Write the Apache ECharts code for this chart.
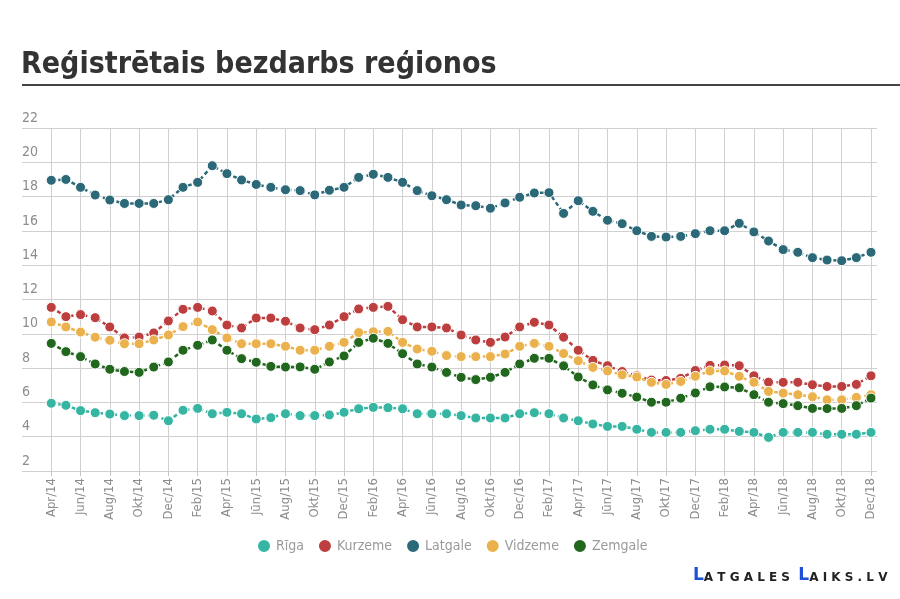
<!DOCTYPE html>
<html>
<head>
<meta charset="utf-8">
<title>Reģistrētais bezdarbs reģionos</title>
<script src="https://cdn.jsdelivr.net/npm/echarts@6/dist/echarts.min.js"></script>
<style>
  html, body { margin: 0; padding: 0; background: #fff; }
  #chart { width: 900px; height: 599px; }
</style>
</head>
<body>
<div id="chart"></div>
<script>
// ticks every second month, Apr/14 .. Dec/18
const tickLabels = [
  "Apr/14", "Jun/14", "Aug/14", "Okt/14", "Dec/14",
  "Feb/15", "Apr/15", "Jūn/15", "Aug/15", "Okt/15", "Dec/15",
  "Feb/16", "Apr/16", "Jūn/16", "Aug/16", "Okt/16", "Dec/16",
  "Feb/17", "Apr/17", "Jūn/17", "Aug/17", "Okt/17", "Dec/17",
  "Feb/18", "Apr/18", "Jūn/18", "Aug/18", "Okt/18", "Dec/18"
];

const seriesNames = ["Rīga", "Kurzeme", "Latgale", "Vidzeme", "Zemgale"];

// monthly values, Apr/14 .. Dec/18 (57 months)
const riga = [
  5.95, 5.83, 5.52, 5.4, 5.32, 5.23, 5.23, 5.25, 4.93, 5.54,
  5.65, 5.34, 5.42, 5.34, 5.03, 5.11, 5.34, 5.23, 5.23, 5.27,
  5.42, 5.63, 5.71, 5.69, 5.63, 5.34, 5.34, 5.34, 5.23, 5.09,
  5.09, 5.09, 5.34, 5.4, 5.34, 5.09, 4.93, 4.74, 4.6, 4.6,
  4.43, 4.25, 4.25, 4.25, 4.35, 4.43, 4.43, 4.31, 4.25, 3.96,
  4.25, 4.25, 4.25, 4.14, 4.14, 4.14, 4.25
];
const kurzeme = [
  11.54, 11.0, 11.12, 10.94, 10.4, 9.76, 9.81, 10.05, 10.75, 11.43,
  11.54, 11.33, 10.51, 10.34, 10.92, 10.92, 10.73, 10.34, 10.24, 10.51,
  11.0, 11.45, 11.54, 11.6, 10.82, 10.4, 10.4, 10.34, 9.93, 9.64,
  9.5, 9.81, 10.4, 10.67, 10.51, 9.8, 9.04, 8.45, 8.14, 7.8,
  7.55, 7.3, 7.28, 7.4, 7.86, 8.16, 8.18, 8.14, 7.55, 7.18,
  7.17, 7.17, 7.03, 6.93, 6.93, 7.05, 7.55
];
const latgale = [
  18.95, 19.0, 18.54, 18.09, 17.8, 17.6, 17.6, 17.6, 17.82, 18.54,
  18.83, 19.8, 19.34, 18.97, 18.71, 18.54, 18.4, 18.35, 18.1, 18.37,
  18.54, 19.12, 19.3, 19.12, 18.83, 18.35, 18.05, 17.82, 17.51, 17.47,
  17.32, 17.63, 17.96, 18.21, 18.23, 17.02, 17.76, 17.14, 16.62, 16.42,
  16.01, 15.68, 15.64, 15.68, 15.84, 16.01, 16.01, 16.44, 15.94, 15.41,
  14.91, 14.75, 14.44, 14.3, 14.26, 14.44, 14.75
];
const vidzeme = [
  10.69, 10.4, 10.1, 9.8, 9.62, 9.42, 9.42, 9.64, 9.93, 10.42,
  10.69, 10.24, 9.76, 9.42, 9.42, 9.42, 9.27, 9.04, 9.04, 9.27,
  9.5, 10.07, 10.12, 10.14, 9.5, 9.11, 8.98, 8.73, 8.67, 8.67,
  8.67, 8.82, 9.27, 9.44, 9.27, 8.85, 8.43, 8.04, 7.83, 7.61,
  7.48, 7.17, 7.05, 7.22, 7.52, 7.83, 7.83, 7.52, 7.17, 6.64,
  6.54, 6.45, 6.33, 6.15, 6.15, 6.29, 6.45
];
const zemgale = [
  9.44, 8.96, 8.67, 8.24, 7.93, 7.8, 7.75, 8.06, 8.36, 9.04,
  9.33, 9.64, 9.04, 8.55, 8.34, 8.1, 8.06, 8.07, 7.93, 8.36,
  8.71, 9.5, 9.74, 9.44, 8.84, 8.24, 8.06, 7.75, 7.46, 7.33,
  7.46, 7.75, 8.24, 8.57, 8.57, 8.13, 7.48, 7.02, 6.73, 6.53,
  6.31, 6.01, 6.01, 6.24, 6.55, 6.91, 6.9, 6.85, 6.45, 6.01,
  5.93, 5.81, 5.65, 5.64, 5.65, 5.81, 6.25
];

const colors = ["#35b5a2", "#bd3e3e", "#2b6878", "#ebb14c", "#21671d"];
const narrow = "'Liberation Sans Narrow', 'DejaVu Sans Condensed', sans-serif";

const chart = echarts.init(document.getElementById("chart"), null, { renderer: "canvas" });

function makeSeries(name, values, i) {
  return {
    name: name,
    type: "line",
    data: values.map((v, k) => [k, v]),
    symbol: "circle",
    symbolSize: 10,
    itemStyle: { color: colors[i], borderColor: "#fff", borderWidth: 1 },
    lineStyle: { color: colors[i], width: 2.5, type: [4, 3] },
    z: 2 + i
  };
}

const option = {
  animation: false,
  color: colors,
  graphic: [
    {
      type: "text",
      left: 21,
      top: 50,
      style: {
        text: "Reģistrētais bezdarbs reģionos",
        font: "bold 30px " + narrow,
        fill: "#333"
      }
    },
    {
      type: "rect",
      shape: { x: 22, y: 84, width: 878, height: 2 },
      style: { fill: "#444" }
    },
    {
      type: "text",
      left: 693,
      top: 567,
      style: {
        text: "{b|L}{s|A T G A L E S  }{b|L}{s|A I K S . L V}",
        rich: {
          b: { fontSize: 17, fontWeight: "bold", fill: "#1d4fd8", fontFamily: "'DejaVu Sans', sans-serif" },
          s: { fontSize: 12, fontWeight: "bold", fill: "#222", fontFamily: "'DejaVu Sans', sans-serif", verticalAlign: "bottom" }
        }
      }
    }
  ],
  legend: {
    data: seriesNames,
    top: 533,
    left: 251,
    itemGap: 13,
    icon: "circle",
    itemWidth: 14,
    itemHeight: 14,
    textStyle: { color: "#9a9a9a", fontSize: 14, fontFamily: narrow }
  },
  grid: {
    left: 22,
    right: 23,
    top: 128,
    bottom: 128,
    containLabel: false
  },
  xAxis: {
    type: "value",
    min: -2,
    max: 56.41,
    interval: 2,
    axisLine: { show: false },
    axisTick: {
      show: true,
      length: 5,
      lineStyle: { color: "#c8c8c8" }
    },
    splitLine: {
      show: true,
      showMinLine: false,
      showMaxLine: false,
      lineStyle: { color: "#d0d0d0", width: 1 }
    },
    axisLabel: {
      rotate: 90,
      margin: 7,
      color: "#8c8c8c",
      fontSize: 13,
      fontFamily: narrow,
      showMinLabel: false,
      showMaxLabel: false,
      formatter: function (v) {
        const k = Math.round(v);
        if (Math.abs(v - k) > 1e-6 || k < 0 || k % 2) return "";
        return tickLabels[k / 2] || "";
      }
    }
  },
  yAxis: {
    type: "value",
    min: 2,
    max: 22,
    interval: 2,
    axisLine: { show: false },
    axisTick: { show: false },
    splitLine: { lineStyle: { color: "#d0d0d0", width: 1 } },
    axisLabel: {
      inside: true,
      margin: 0,
      verticalAlign: "bottom",
      padding: [0, 0, 3, 0],
      color: "#8c8c8c",
      fontSize: 14,
      fontFamily: narrow
    }
  },
  series: [
    makeSeries(seriesNames[0], riga, 0),
    makeSeries(seriesNames[1], kurzeme, 1),
    makeSeries(seriesNames[2], latgale, 2),
    makeSeries(seriesNames[3], vidzeme, 3),
    makeSeries(seriesNames[4], zemgale, 4)
  ]
};

chart.setOption(option);
</script>
</body>
</html>
